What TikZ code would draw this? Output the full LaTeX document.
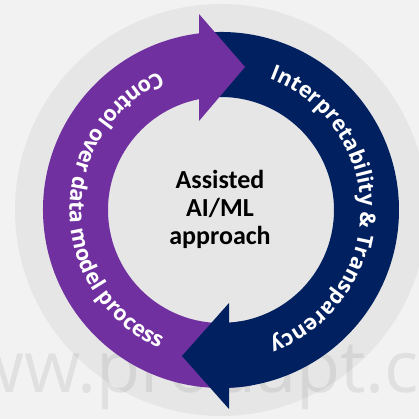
\documentclass[tikz,border=0pt]{standalone}
\usepackage{fontspec}
\newfontfamily\arcfont{Open Sans}
\newfontfamily\ctrfont{Carlito}
\newfontfamily\wmfont{Open Sans}
\usetikzlibrary{calc,decorations.text}
\definecolor{bgc}{HTML}{F2F2F2}
\definecolor{ringc}{HTML}{E6E6E6}
\definecolor{purp}{HTML}{7030A0}
\definecolor{navyc}{HTML}{002060}
\tikzset{
  ctrtext/.style={font=\ctrfont\bfseries\fontsize{26}{28}\selectfont, text=black, anchor=base, inner sep=0pt},
  arctext/.style={decorate, decoration={text along path, text align=center, text color=white, raise=0pt}}
}
\begin{document}
\begin{tikzpicture}[x=1pt,y=1pt]
\useasboundingbox (0,0) rectangle (419,419);
\clip (0,0) rectangle (419,419);
\fill[bgc] (0,0) rectangle (419,419);
\coordinate (O) at (221,209);
\fill[ringc] (O) circle[radius=206pt];
\node[font=\wmfont\fontsize{72}{72}\selectfont, text=black, text opacity=0.07, anchor=base west, inner sep=0pt] (wm) at (-88,26) {www.prodapt.com};
% purple body
\fill[purp] ($(O)+(97.1:178pt)$) arc[start angle=97.1, end angle=280, radius=178pt]
  -- ($(O)+(280:113pt)$) arc[start angle=280, end angle=101.2, radius=113pt] -- cycle;
% navy body
\fill[navyc] ($(O)+(95:178pt)$) arc[start angle=95, end angle=-87.4, radius=178pt]
  -- ($(O)+(-85.9:113pt)$) arc[start angle=-85.9, end angle=95, radius=113pt] -- cycle;
% heads
\fill[purp] (199,405) -- (245,352) -- (199,298) -- cycle;
\fill[navyc] (229,116) -- (182,63) -- (229,10) -- cycle;
% arc texts
\path[arctext, decoration={text={|\arcfont\bfseries\fontsize{21.5}{21.5}\selectfont|Control over data model process}}]
  ($(O)+(90:151.5pt)$) arc[start angle=90, end angle=270, radius=151.5pt];
\path[arctext, decoration={text={|\arcfont\bfseries\fontsize{21.5}{21.5}\selectfont|Interpretability {\&} Transparency}}]
  ($(O)+(90:139.5pt)$) arc[start angle=90, end angle=-90, radius=139.5pt];
% center
\node[ctrtext] (t1) at (220,230) {Assisted};
\node[ctrtext] (t2) at (220,202) {AI/ML};
\node[ctrtext] (t3) at (220,174) {approach};
\end{tikzpicture}
\end{document}
